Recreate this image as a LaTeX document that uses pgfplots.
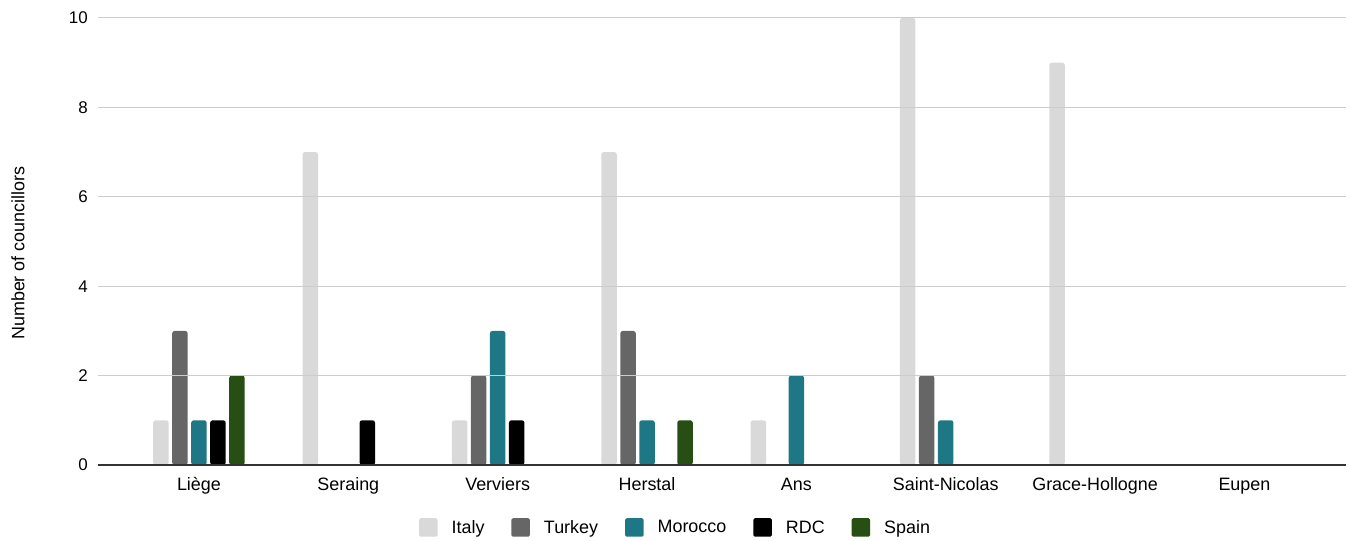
\documentclass[border=0pt]{standalone}
\usepackage{pgfplots}
\pgfplotsset{compat=1.18}
\usepackage{fontspec}
\setmainfont{Liberation Sans}
\definecolor{cItaly}{HTML}{D9D9D9}
\definecolor{cTurkey}{HTML}{666666}
\definecolor{cMorocco}{HTML}{1E7784}
\definecolor{cRDC}{HTML}{000000}
\definecolor{cSpain}{HTML}{274E13}
\definecolor{cGrid}{HTML}{CCCCCC}
\definecolor{cAxis}{HTML}{333333}
\begin{document}
\begin{tikzpicture}
\begin{axis}[
  name=a,
  scale only axis,
  width=1248bp, height=447bp,
  xmin=-0.676, xmax=7.68,
  ymin=0, ymax=10,
  ytick={0,2,...,10},
  xtick={0,...,7},
  xticklabels={Liège,Seraing,Verviers,Herstal,Ans,Saint-Nicolas,Grace-Hollogne,Eupen},
  /pgf/number format/assume math mode=true,
  major tick length=0pt,
  axis x line*=bottom,
  axis y line*=left,
  y axis line style={draw=none},
  x axis line style={draw=cAxis, line width=1.3bp},
  ymajorgrids,
  grid style={draw=cGrid, line width=1bp},
  yticklabel style={font=\fontsize{17}{20}\selectfont, inner sep=0pt, xshift=-10bp},
  xticklabel style={font=\fontsize{18}{20}\selectfont, inner sep=0pt, yshift=-12.5bp},
  ylabel={Number of councillors},
  ylabel style={font=\fontsize{18}{20}\selectfont, at={(axis description cs:-0.0641,0.474)}, anchor=center},
  ybar=3.5bp,
  bar width=15.5bp,
  axis on top,
  legend columns=5,
  legend style={draw=none, at={(axis description cs:0.462,0)}, yshift=-62.5bp, anchor=center,
    font=\fontsize{18}{20}\selectfont,
    nodes={inner sep=0pt},
    /tikz/every odd column/.append style={column sep=14bp},
    /tikz/every even column/.append style={column sep=27bp}},
  legend image code/.code={\path[#1, rounded corners=1.5bp] (0bp,-9.25bp) rectangle (18.5bp,9.25bp);},
  every axis plot/.append style={draw=none, rounded corners=2.5bp},
]
\addplot[fill=cItaly] coordinates {(0,1) (1,7) (2,1) (3,7) (4,1) (5,10) (6,9)};
\addplot[fill=cTurkey] coordinates {(0,3) (2,2) (3,3) (5,2)};
\addplot[fill=cMorocco] coordinates {(0,1) (2,3) (3,1) (4,2) (5,1)};
\addplot[fill=cRDC] coordinates {(0,1) (1,1) (2,1)};
\addplot[fill=cSpain] coordinates {(0,2) (3,1)};
\legend{Italy,Turkey,Morocco,RDC,Spain}
\end{axis}
\pgfresetboundingbox
\path ([xshift=-98bp,yshift=-76bp]a.south west) rectangle ([xshift=5bp,yshift=18bp]a.north east);
\end{tikzpicture}
\end{document}
